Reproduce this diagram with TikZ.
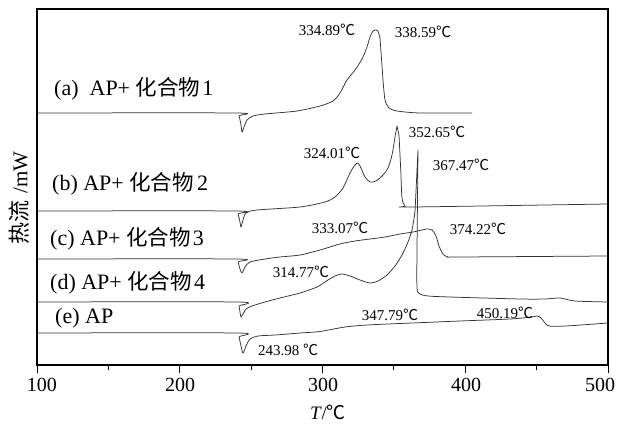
\documentclass[tikz,border=0pt]{standalone}
\usepackage{fontspec}
\setmainfont{Liberation Serif}
\newfontfamily\cjkf{Noto Sans CJK SC}
\newcommand{\myC}{{\cjkf ℃}}
\newcommand{\cjklab}[1]{{\cjkf\fontsize{21.5}{22}\selectfont #1}}
\begin{document}
\begin{tikzpicture}[x=1pt,y=-1pt,
  curve/.style={black!80, line width=0.75pt, line join=round},
  peak/.style={font=\fontsize{15}{15}\selectfont, inner sep=0pt},
  lab/.style={font=\fontsize{22}{22}\selectfont, inner sep=0pt, anchor=base west},
  ticklab/.style={font=\fontsize{20}{20}\selectfont, inner sep=0pt},
  frame/.style={line width=1.2pt}]
\useasboundingbox (0,0) rectangle (619,425);
\fill[white] (0,0) rectangle (619,425);
% frame
\draw[frame] (37,9) rectangle (608,365);
% ticks
\foreach \t in {100,200,300,400,500} \draw[line width=1pt] ({37+(\t-100)*1.4275},365) -- ++(0,8);
\foreach \t in {150,250,350,450} \draw[line width=1pt] ({37+(\t-100)*1.4275},365) -- ++(0,4.5);
\node[ticklab] (t100) at (42,385) {100};
\node[ticklab] (t200) at (180,385) {200};
\node[ticklab] (t300) at (323,385) {300};
\node[ticklab] (t400) at (466,385) {400};
\node[ticklab] (t500) at (600,385) {500};
\node[ticklab, font=\fontsize{19}{19}\selectfont] (xlab) at (328,412) {\textit{T}/\myC};
\node[ticklab, rotate=90, font=\fontsize{21}{21}\selectfont] (ylab) at (19,198) {{\cjkf\fontsize{22}{22}\selectfont 热流}\hspace{0.35em}/mW};
% curve (a)
\draw[curve] plot[smooth, tension=0.45] coordinates {(37,113) (236,113) (239,116) (241,125) (242,132) (244,127) (247,120) (253,116) (265,114) (297,111) (320,106) (333,101) (340,93) (347,80) (355,70) (362,59) (367,47) (370,37) (373,31) (376,30) (378,31) (380,38)} -- (383,80) -- plot[smooth, tension=0.45] coordinates {(383,80) (385,100) (389,108) (397,111) (420,113) (472,113)};
% curve (b)
\draw[curve] plot[smooth, tension=0.45] coordinates {(37,211) (236,211) (238,214) (240,222) (241,227) (243,220) (246,213) (257,210) (300,207) (325,202) (335,197) (343,188) (350,173) (355,165) (358,163) (361,168) (365,177) (370,182) (376,181) (383,175) (388,168) (392,155) (395,137)} -- (397,126) -- (399,135) -- (401,175) -- plot[smooth, tension=0.45] coordinates {(401,175) (402,198) (405,206) (412,207) (608,204)};
% curve (c)
\draw[curve] plot[smooth, tension=0.45] coordinates {(37,259) (236,259) (238,262) (240,269) (242,273) (245,267) (250,262) (265,259) (280,257) (300,255) (320,250) (340,244) (355,241) (370,239) (385,237) (400,234) (413,232) (422,230) (427,229) (432,230) (436,236) (439,246) (443,254) (448,257) (460,257) (608,256)};
% curve (d)
\draw[curve] plot[smooth, tension=0.45] coordinates {(37,302) (237,302) (239,306) (240,312) (241,317) (243,314) (246,309) (252,306) (265,302) (280,298) (300,293) (317,287) (328,280) (335,276) (342,274) (350,276) (360,280) (370,283) (378,281) (387,275) (395,266) (402,255) (408,242) (412,230) (415,212)} -- (418,150) -- (417,250) -- plot[smooth, tension=0.45] coordinates {(417,250) (417,288) (420,294) (428,296) (450,297) (520,299) (545,299) (560,298) (575,301) (608,302)};
% curve (e)
\draw[curve] plot[smooth, tension=0.45] coordinates {(37,333) (237,333) (239,337) (241,346) (243,353) (246,346) (250,339) (258,336) (275,335) (300,333) (320,331.5) (345,327) (367,325) (400,323.5) (460,321) (510,319) (532,317) (537,316) (541,318) (545,323) (549,326) (566,326) (608,323)};
% curve labels
\node[lab] (la) at (54,96) {(a)\hspace{0.5em}AP+\hspace{0.25em}\cjklab{化合物}\hspace{0.1em}1};
\node[lab] (lb) at (52,190) {(b) AP+\hspace{0.25em}\cjklab{化合物}\hspace{0.15em}2};
\node[lab] (lc) at (50,245) {(c) AP+\hspace{0.25em}\cjklab{化合物}\hspace{0.1em}3};
\node[lab] (ld) at (50,289) {(d) AP+\hspace{0.25em}\cjklab{化合物}\hspace{0.1em}4};
\node[lab] (le) at (55,323) {(e) AP};
% peak labels
\node[peak] (p1) at (327,30) {334.89\myC};
\node[peak] (p2) at (423,32) {338.59\myC};
\node[peak] (p3) at (437,132) {352.65\myC};
\node[peak] (p4) at (332,153) {324.01\myC};
\node[peak] (p5) at (461,165) {367.47\myC};
\node[peak] (p6) at (340,228) {333.07\myC};
\node[peak] (p7) at (478,229) {374.22\myC};
\node[peak] (p8) at (301,272) {314.77\myC};
\node[peak] (p9) at (390,315) {347.79\myC};
\node[peak] (p10) at (505,313) {450.19\myC};
\node[peak] (p11) at (288,350) {243.98 \myC};
\end{tikzpicture}
\end{document}
